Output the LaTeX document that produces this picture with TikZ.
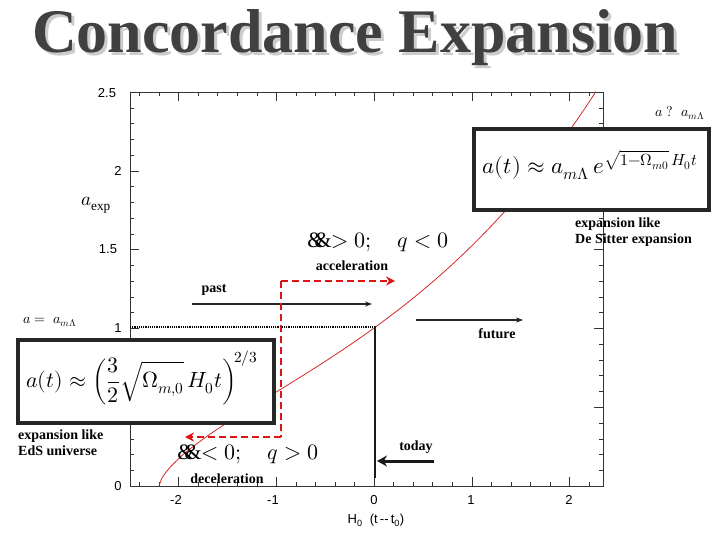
\documentclass[tikz,border=0pt]{standalone}
\usepackage{fontspec}
\usepackage{unicode-math}
\setmainfont{Liberation Serif}
\setmathfont{Latin Modern Math}
\newfontfamily\axf{Liberation Sans}
\usetikzlibrary{arrows.meta}
\definecolor{dred}{RGB}{220,20,20}
\definecolor{cred}{RGB}{210,40,40}
\newcommand{\aacc}{\mbox{\&\kern-0.45em\&}}
\begin{document}
\begin{tikzpicture}[x=1pt,y=-1pt,
  lbl/.style={font=\bfseries\fontsize{14}{16}\selectfont, inner sep=0pt},
  ax/.style={font=\axf\fontsize{13}{15}\selectfont, inner sep=0pt},
  fbox/.style={draw=black!85, line width=4pt, fill=white, inner sep=0pt},
  blk/.style={draw=black!85, line width=1.6pt, -{Stealth[length=7pt]}},
  rdash/.style={draw=dred, line width=2.2pt, dash pattern=on 7pt off 4pt, -{Stealth[length=9pt,width=9pt]}}]
\useasboundingbox (0,0) rectangle (720,540);
% title
\node[font=\bfseries\fontsize{62}{66}\selectfont, text=black!20] (tsh) at (358,41) {Concordance Expansion};
\node[font=\bfseries\fontsize{62}{66}\selectfont, text=black!75] (title) at (355,38) {Concordance Expansion};
% frame
\draw[black!80, line width=0.8pt] (130,92) rectangle (603,486);
\foreach \i in {-12,...,11} { \pgfmathsetmacro\X{374+97.75*\i/5}
  \draw[black!80] (\X,486) -- (\X,482); \draw[black!80] (\X,92) -- (\X,96); }
\foreach \i in {-2,...,2} { \pgfmathsetmacro\X{374+97.75*\i}
  \draw[black!80] (\X,486) -- (\X,477); \draw[black!80] (\X,92) -- (\X,101); }
\foreach \i in {1,...,24} { \pgfmathsetmacro\Y{486-15.76*\i}
  \draw[black!80] (130,\Y) -- (134,\Y); \draw[black!80] (603,\Y) -- (599,\Y); }
\foreach \i in {0,...,5} { \pgfmathsetmacro\Y{486-78.8*\i}
  \draw[black!80] (130,\Y) -- (139,\Y); \draw[black!80] (603,\Y) -- (594,\Y); }
\node[ax] (y25) at (107,93) {2.5};
\node[ax] (y2) at (118,171) {2};
\node[ax] (y15) at (108,249) {1.5};
\node[ax] (y1) at (118,328) {1};
\node[ax] (y0) at (118,486) {0};
\node[ax] (xm2) at (176,500) {-2};
\node[ax] (xm1) at (273,500) {-1};
\node[ax] (x0) at (374,500) {0};
\node[ax] (x1) at (471,500) {1};
\node[ax] (x2) at (569,500) {2};
\node[ax] (xlab) at (376,520) {H\textsubscript{0}\ \ (t\,--\,t\textsubscript{0})};
\node[inner sep=0pt, font=\fontsize{19}{21}\selectfont] (aexp) at (96,205) {$a_{\mathrm{exp}}$};
% curve
\draw[cred, line width=0.8pt] plot[domain=-2.2:2.27, samples=150, smooth] ({374+97.75*\x}, {486-158*0.728*pow(sinh(0.57*(\x+2.2)),2/3)});
% lines
\draw[black, line width=2pt, dash pattern=on 1.2pt off 1pt] (130,327) coordinate (dl) -- (374,327) coordinate (today);
\coordinate (tb) at (375,478);
\draw[black!90, line width=2.6pt] (375,326) -- (tb);
\coordinate (pa) at (192,304); \coordinate (pb) at (372,304);
\draw[blk] (pa) -- (pb);
\coordinate (fa) at (416,320); \coordinate (fb) at (523,320);
\draw[blk] (fa) -- (fb);
\coordinate (ta) at (434,461); \coordinate (tt) at (377,461);
\draw[black!90, line width=3pt, -{Stealth[length=10pt,width=11pt]}] (ta) -- (tt);
% red path
\coordinate (r1) at (281,281); \coordinate (r2) at (281,437);
\coordinate (re) at (395,281); \coordinate (rs) at (185,437);
\draw[rdash] (r1) -- (re);
\draw[rdash] (r2) -- (rs);
\draw[dred, line width=2.2pt, dash pattern=on 7pt off 4pt] (r1) -- (r2);
% boxes
\node[fbox, minimum width=235pt, minimum height=81pt, anchor=north west] (rbox) at (472,127) {};
\node[inner sep=0pt, font=\fontsize{23}{25}\selectfont] (rf) at (590,165) {$a(t)\approx a_{m\Lambda}\,e^{\sqrt{1-\Omega_{m0}}\,H_0 t}$};
\node[fbox, minimum width=256pt, minimum height=83pt, anchor=north west] (lbox) at (16,338) {};
\node[inner sep=0pt, font=\fontsize{22}{24}\selectfont] (lf) at (142,378) {$\displaystyle a(t)\approx\left(\frac{3}{2}\sqrt{\Omega_{m,0}}\,H_0 t\right)^{\!2/3}$};
% labels
\node[lbl] (acc) at (352,266) {acceleration};
\node[lbl] (past) at (214,290) {past};
\node[lbl] (fut) at (497,334) {future};
\node[lbl] (tod) at (416,447) {today};
\node[lbl] (dec) at (227,479) {deceleration};
\node[lbl, align=left, anchor=north west] (eds) at (18,430) {expansion like\\EdS universe};
\node[lbl, align=left, anchor=north west] (ds) at (575,218) {expansion like\\De Sitter expansion};
\node[inner sep=0pt, font=\fontsize{22}{24}\selectfont] (qa) at (378,242) {\aacc$>0;\quad q<0$};
\node[inner sep=0pt, font=\fontsize{22}{24}\selectfont] (qd) at (248,454) {\aacc$<0;\quad q>0$};
\node[inner sep=0pt, font=\fontsize{14}{16}\selectfont] (aq) at (680,113) {$a\;?\;\;a_{m\Lambda}$};
\node[inner sep=0pt, font=\fontsize{14}{16}\selectfont] (aeq) at (50,322) {$a=\;a_{m\Lambda}$};
\end{tikzpicture}
\end{document}
